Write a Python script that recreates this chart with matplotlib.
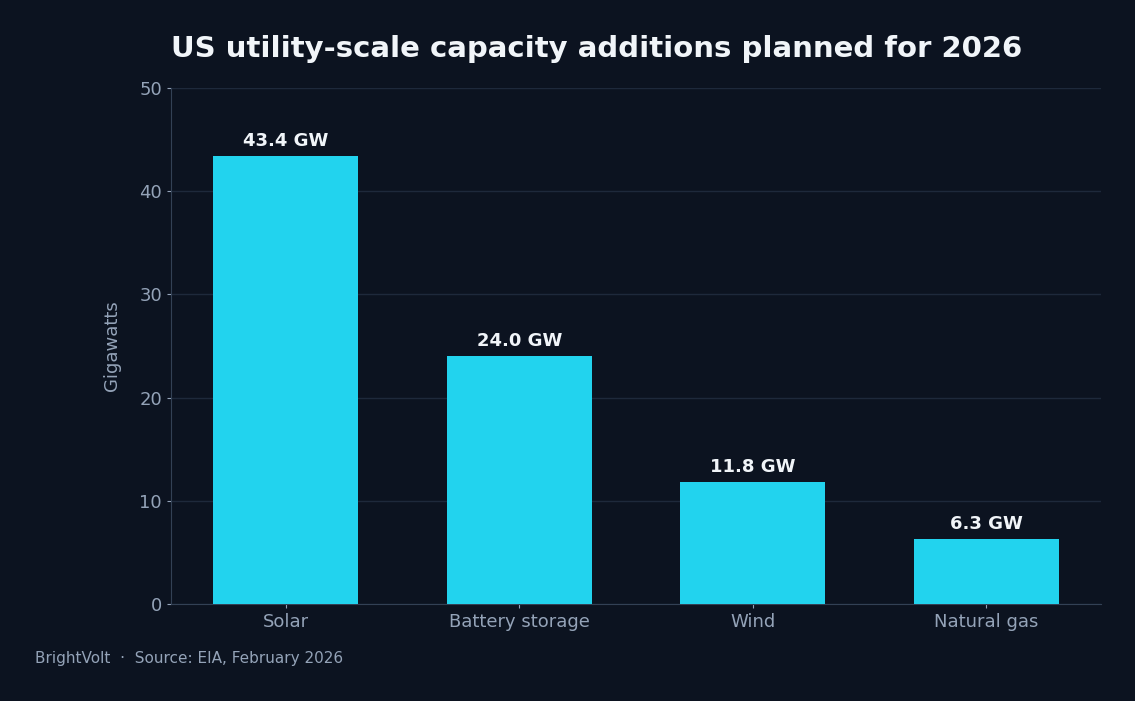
import matplotlib.pyplot as plt

categories = ["Solar", "Battery storage", "Wind", "Natural gas"]
capacity_gw = [43.4, 24.0, 11.8, 6.3]
yticks = [0, 10, 20, 30, 40, 50]

bg = "#0c1320"
bar_color = "#22d3ee"
muted = "#94a3b8"
light = "#f1f5f9"
grid_color = "#1e293b"
spine_color = "#334155"

fig = plt.figure(figsize=(11.35, 7.01), dpi=100, facecolor=bg)
ax = fig.add_axes([171 / 1135, 1 - 604 / 701, 930 / 1135, 516 / 701])
ax.set_facecolor(bg)

bars = ax.bar(categories, capacity_gw, width=0.62, color=bar_color, zorder=3)
for b, v in zip(bars, capacity_gw):
    ax.annotate(f"{v:.1f} GW", (b.get_x() + b.get_width() / 2, v),
                xytext=(0, 4.5), textcoords="offset points", ha="center", va="bottom",
                fontsize=13, fontweight="bold", color=light)

ax.set_ylim(0, 50)
ax.set_yticks(yticks)
ax.grid(axis="y", color=grid_color, linewidth=1, zorder=0)
ax.set_axisbelow(True)
for s in ["top", "right"]:
    ax.spines[s].set_visible(False)
for s in ["left", "bottom"]:
    ax.spines[s].set_color(spine_color)
ax.tick_params(colors=muted, labelsize=13)
ax.tick_params(axis="both", color=muted, length=3)
ax.set_ylabel("Gigawatts", color=muted, fontsize=13, labelpad=13)

ax.set_title("US utility-scale capacity additions planned for 2026", loc="left",
             fontsize=21, fontweight="bold", color=light, pad=22)
fig.text(35 / 1135, 1 - 659 / 701, "BrightVolt  ·  Source: EIA, February 2026",
         color=muted, fontsize=11, va="center")

fig.savefig("out.png", dpi=100, facecolor=bg)
